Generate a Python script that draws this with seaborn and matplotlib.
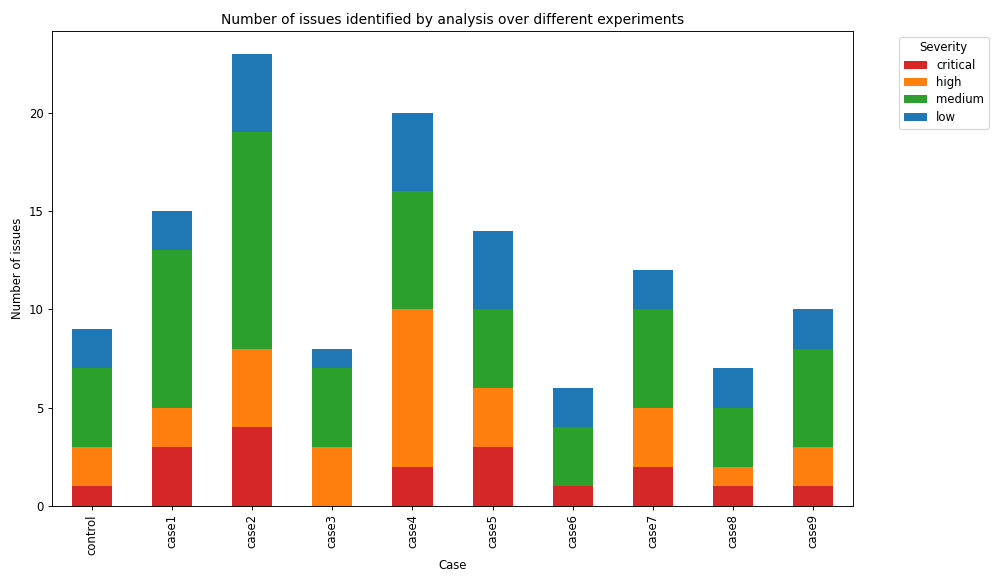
import matplotlib
matplotlib.use("Agg")
import matplotlib.pyplot as plt
import seaborn as sns
import numpy as np
import pandas as pd

cases = ["control", "case1", "case2", "case3", "case4", "case5", "case6", "case7", "case8", "case9"]
critical = [1, 3, 4, 0, 2, 3, 1, 2, 1, 1]
high = [2, 2, 4, 3, 8, 3, 0, 3, 1, 2]
medium = [4, 8, 11, 4, 6, 4, 3, 5, 3, 5]
low = [2, 2, 4, 1, 4, 4, 2, 2, 2, 2]

severities = ["critical", "high", "medium", "low"]
colors = {"critical": "#d62728", "high": "#ff7f0e", "medium": "#2ca02c", "low": "#1f77b4"}

df = pd.DataFrame({"Case": cases, "critical": critical, "high": high, "medium": medium, "low": low})

DPI = 999 / 12
fig, ax = plt.subplots(figsize=(12, 583 / DPI), dpi=DPI)
bottom = np.zeros(len(cases))
for sev in severities:
    vals = df[sev].to_numpy(dtype=float)
    sns.barplot(x=df["Case"], y=vals, bottom=bottom, color=colors[sev], width=0.5,
                label=sev, ax=ax, saturation=1)
    bottom = bottom + vals

ax.set_title("Number of issues identified by analysis over different experiments")
ax.set_xlabel("Case")
ax.set_ylabel("Number of issues")
ax.set_xlim(-0.5, len(cases) - 0.5)
ax.set_ylim(0, bottom.max() * 1.05)
plt.setp(ax.get_xticklabels(), rotation=90)
ax.legend(title="Severity", bbox_to_anchor=(1.05, 1), loc="upper left", labelspacing=0.38)
fig.subplots_adjust(left=0.052, right=0.854, top=0.947, bottom=0.132)
fig.savefig("out.png", dpi=DPI)
